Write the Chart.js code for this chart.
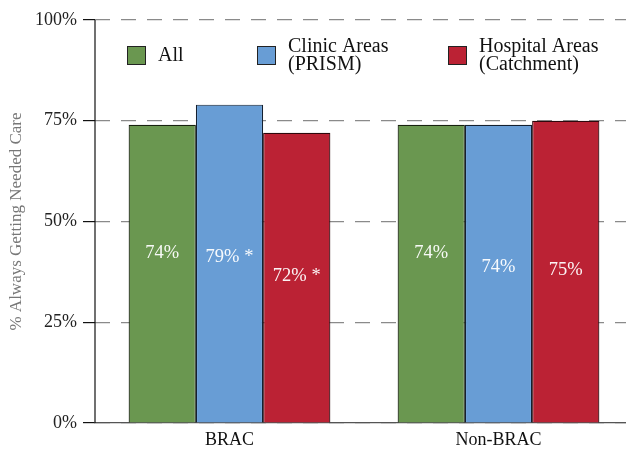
<!DOCTYPE html>
<html><head><meta charset="utf-8">
<script src="https://cdn.jsdelivr.net/npm/chart.js@4.4.1/dist/chart.umd.min.js"></script>
<style>
html,body{margin:0;padding:0;background:#fff;}
#wrap{width:626px;height:449px;overflow:hidden;position:relative;}
canvas{display:block;}
</style>
</head><body>
<div id="wrap"><canvas id="c" width="640" height="449"></canvas></div>
<script>
// ---- data ----
const categories = ['BRAC', 'Non-BRAC'];
const seriesNames = [['All'], ['Clinic Areas', '(PRISM)'], ['Hospital Areas', '(Catchment)']];
const allValues = [74, 74];
const clinicValues = [79, 74];
const hospitalValues = [72, 75];
const allMarks = ['', ''];
const clinicMarks = ['*', ''];
const hospitalMarks = ['*', ''];
const yTicks = [0, 25, 50, 75, 100];
const yTitle = '% Always Getting Needed Care';

// ---- styles ----
const FONT = "'Liberation Serif', 'Times New Roman', serif";
const seriesStyles = [
  { fill: '#6a9750', border: '#18220f', labelAnchor: 0.57 },
  { fill: '#689dd5', border: '#14202f', labelAnchor: 0.52 },
  { fill: '#bb2234', border: '#2e080c', labelAnchor: 0.505 }
];
const seriesValues = [allValues, clinicValues, hospitalValues];
const seriesMarks = [allMarks, clinicMarks, hospitalMarks];

const datasets = seriesValues.map((vals, i) => ({
  label: seriesNames[i].join(' '),
  nameLines: seriesNames[i],
  marks: seriesMarks[i],
  labelAnchor: seriesStyles[i].labelAnchor,
  data: vals,
  backgroundColor: seriesStyles[i].fill,
  borderColor: seriesStyles[i].border,
  borderWidth: 1.2,
  categoryPercentage: 0.75,
  barPercentage: 1.0
}));

const valueLabels = {
  id: 'valueLabels',
  afterDatasetsDraw(chart) {
    const ctx = chart.ctx;
    ctx.save();
    ctx.font = '18.5px ' + FONT;
    ctx.fillStyle = 'rgba(255,255,255,0.95)';
    ctx.textAlign = 'center';
    ctx.textBaseline = 'middle';
    chart.data.datasets.forEach((ds, di) => {
      const meta = chart.getDatasetMeta(di);
      meta.data.forEach((bar, j) => {
        const v = ds.data[j];
        const mark = ds.marks[j];
        const txt = v + '%' + (mark ? ' ' + mark : '');
        const y = bar.base - (bar.base - bar.y) * ds.labelAnchor;
        ctx.fillText(txt, bar.x, y);
      });
    });
    ctx.restore();
  }
};

const customLegend = {
  id: 'customLegend',
  afterDraw(chart) {
    const ctx = chart.ctx;
    const ca = chart.chartArea;
    const offsets = [32, 162, 353];
    const size = 18;
    const boxTop = ca.top + 26;
    ctx.save();
    ctx.font = '20px ' + FONT;
    ctx.textBaseline = 'middle';
    ctx.textAlign = 'left';
    chart.data.datasets.forEach((ds, i) => {
      const x = ca.left + offsets[i];
      ctx.fillStyle = ds.backgroundColor;
      ctx.fillRect(x, boxTop, size, size);
      ctx.strokeStyle = '#222';
      ctx.lineWidth = 1;
      ctx.strokeRect(x + 0.5, boxTop + 0.5, size, size);
      ctx.fillStyle = '#111';
      const n = ds.nameLines.length;
      const cy = boxTop + size / 2 + 1;
      ds.nameLines.forEach((line, j) => {
        ctx.fillText(line, x + 31, cy + (j - (n - 1) / 2) * 18);
      });
    });
    ctx.restore();
  }
};

const yAxisLine = {
  id: 'yAxisLine',
  afterDraw(chart) {
    const ctx = chart.ctx;
    const ca = chart.chartArea;
    ctx.save();
    ctx.strokeStyle = '#111';
    ctx.lineWidth = 1.2;
    ctx.beginPath();
    ctx.moveTo(ca.left, ca.top);
    ctx.lineTo(ca.left, ca.bottom);
    ctx.stroke();
    ctx.restore();
  }
};

new Chart(document.getElementById('c'), {
  type: 'bar',
  data: { labels: categories, datasets },
  options: {
    responsive: false,
    animation: false,
    devicePixelRatio: 1,
    layout: { padding: { left: 0, right: 7, top: 20, bottom: 0 } },
    plugins: { legend: { display: false }, tooltip: { enabled: false } },
    scales: {
      x: {
        offset: true,
        grid: { display: false, drawTicks: false },
        border: { display: true, color: '#555', width: 1.2 },
        ticks: { color: '#111', font: { family: FONT, size: 18 }, padding: 6 },
        afterFit: s => { s.height = 26; }
      },
      y: {
        min: 0, max: 100,
        afterBuildTicks: s => { s.ticks = yTicks.map(v => ({ value: v })); },
        afterFit: s => { s.width = 95; },
        ticks: { callback: v => v + '%', color: '#222', font: { family: FONT, size: 18 }, padding: 6 },
        grid: { color: '#8a8a8a', lineWidth: 1.2, tickLength: 12, tickColor: '#111', tickWidth: 1.2, tickBorderDash: [] },
        border: { display: false, dash: [15, 11] },
        title: { display: true, text: yTitle, color: '#777', font: { family: FONT, size: 17 }, padding: { top: 6, bottom: 0 } }
      }
    }
  },
  plugins: [valueLabels, customLegend, yAxisLine]
});
</script>
</body></html>
